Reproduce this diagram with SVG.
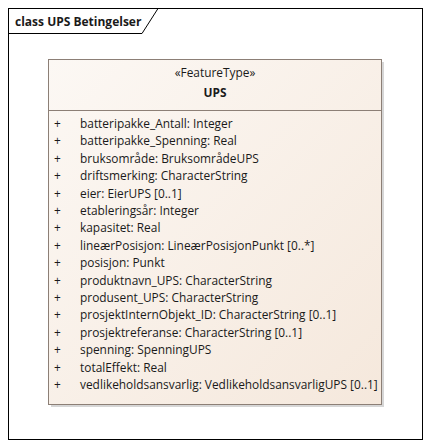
<svg xmlns="http://www.w3.org/2000/svg" width="431" height="448" viewBox="0 0 431 448">
<style>
text{font-family:"Open Sans","Liberation Sans",sans-serif;font-size:11.9px;fill:#1a1a1a}
.b{font-weight:bold}
.c{text-anchor:middle}
</style>
<defs>
<linearGradient id="g" x1="0" y1="0" x2="1" y2="1">
<stop offset="0" stop-color="#FCF8F4"/>
<stop offset="1" stop-color="#F5E8DC"/>
</linearGradient>
</defs>
<rect width="431" height="448" fill="#fff"/>
<g id="frame">
<rect x="8.5" y="8.5" width="414" height="431" fill="none" stroke="#000"/>
<path d="M8.5 33.5H142L158 8.5" fill="none" stroke="#000"/>
<text x="15" y="26" class="b" style="font-size:12px">class UPS Betingelser</text>
</g>
<g id="UPS">
<rect x="51" y="62" width="333" height="345" fill="#bbb" opacity="0.6"/>
<rect x="48.5" y="59.5" width="333" height="345" fill="url(#g)" stroke="#8C7F76"/>
<line x1="48.5" y1="110.5" x2="381.5" y2="110.5" stroke="#8C7F76"/>
<text x="215" y="77" class="c">«FeatureType»</text>
<text x="215" y="97" class="c b">UPS</text>
<g>
<text x="54" y="128">+</text><text x="80" y="128">batteripakke_Antall: Integer</text>
<text x="54" y="145.4">+</text><text x="80" y="145.4">batteripakke_Spenning: Real</text>
<text x="54" y="162.8">+</text><text x="80" y="162.8">bruksområde: BruksområdeUPS</text>
<text x="54" y="180.2">+</text><text x="80" y="180.2">driftsmerking: CharacterString</text>
<text x="54" y="197.6">+</text><text x="80" y="197.6">eier: EierUPS [0..1]</text>
<text x="54" y="215">+</text><text x="80" y="215">etableringsår: Integer</text>
<text x="54" y="232.4">+</text><text x="80" y="232.4">kapasitet: Real</text>
<text x="54" y="249.8">+</text><text x="80" y="249.8">lineærPosisjon: LineærPosisjonPunkt [0..*]</text>
<text x="54" y="267.2">+</text><text x="80" y="267.2">posisjon: Punkt</text>
<text x="54" y="284.6">+</text><text x="80" y="284.6">produktnavn_UPS: CharacterString</text>
<text x="54" y="302">+</text><text x="80" y="302">produsent_UPS: CharacterString</text>
<text x="54" y="319.4">+</text><text x="80" y="319.4">prosjektInternObjekt_ID: CharacterString [0..1]</text>
<text x="54" y="336.8">+</text><text x="80" y="336.8">prosjektreferanse: CharacterString [0..1]</text>
<text x="54" y="354.2">+</text><text x="80" y="354.2">spenning: SpenningUPS</text>
<text x="54" y="371.6">+</text><text x="80" y="371.6">totalEffekt: Real</text>
<text x="54" y="389">+</text><text x="80" y="389">vedlikeholdsansvarlig: VedlikeholdsansvarligUPS [0..1]</text>
</g>
</g>
<g id="connectors"/>
</svg>
